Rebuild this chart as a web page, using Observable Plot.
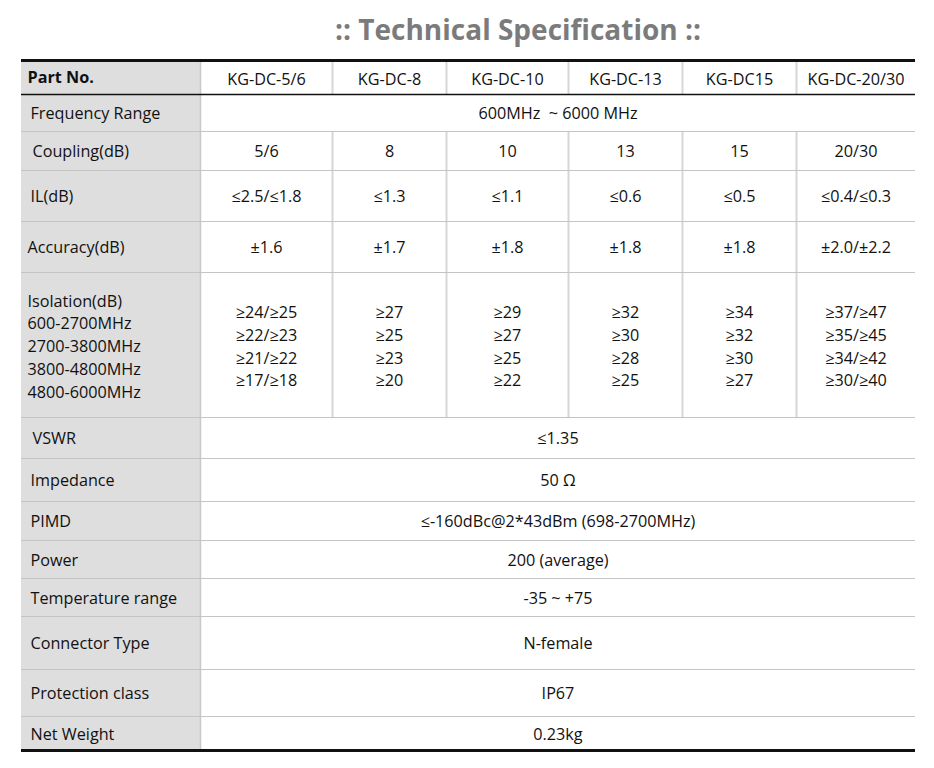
<!DOCTYPE html>
<html>
<head>
<meta charset="utf-8">
<script src="https://cdn.jsdelivr.net/npm/d3@7"></script>
<script src="https://cdn.jsdelivr.net/npm/@observablehq/plot@0.6"></script>
<style>
  html, body { margin: 0; padding: 0; background: #fff; }
  #title { height: 58px; width: 934px; position: relative; font-family: "Open Sans", sans-serif; }
  #title span { position: absolute; left: 518px; top: 10px; transform: translateX(-50%); white-space: nowrap;
    font-size: 28px; line-height: 38px; font-weight: 700; color: #7b7b7b; letter-spacing: 0px; }
  #chart svg { display: block; }
</style>
</head>
<body>
<div id="title"><span>:: Technical Specification ::</span></div>
<div id="chart"></div>
<script>
// ---- content ----
const headerLabel = "Part No.";
const partNumbers = ["KG-DC-5/6", "KG-DC-8", "KG-DC-10", "KG-DC-13", "KG-DC15", "KG-DC-20/30"];
const rowLabels = [
  "Frequency Range",
  "Coupling(dB)",
  "IL(dB)",
  "Accuracy(dB)",
  "Isolation(dB)\n600-2700MHz\n2700-3800MHz\n3800-4800MHz\n4800-6000MHz",
  "VSWR",
  "Impedance",
  "PIMD",
  "Power",
  "Temperature range",
  "Connector Type",
  "Protection class",
  "Net Weight"
];
const frequencyRange = "600MHz  ~ 6000 MHz";
const coupling = ["5/6", "8", "10", "13", "15", "20/30"];
const insertionLoss = ["≤2.5/≤1.8", "≤1.3", "≤1.1", "≤0.6", "≤0.5", "≤0.4/≤0.3"];
const accuracy = ["±1.6", "±1.7", "±1.8", "±1.8", "±1.8", "±2.0/±2.2"];
const isolation = [
  "≥24/≥25\n≥22/≥23\n≥21/≥22\n≥17/≥18",
  "≥27\n≥25\n≥23\n≥20",
  "≥29\n≥27\n≥25\n≥22",
  "≥32\n≥30\n≥28\n≥25",
  "≥34\n≥32\n≥30\n≥27",
  "≥37/≥47\n≥35/≥45\n≥34/≥42\n≥30/≥40"
];
const vswr = "≤1.35";
const impedance = "50 Ω";
const pimd = "≤-160dBc@2*43dBm (698-2700MHz)";
const power = "200 (average)";
const temperature = "-35 ~ +75";
const connector = "N-female";
const protection = "IP67";
const netWeight = "0.23kg";

const rowValues = [frequencyRange, coupling, insertionLoss, accuracy, isolation,
  vswr, impedance, pimd, power, temperature, connector, protection, netWeight];

// ---- layout (table units) ----
const colEdges = [21, 200, 332, 446, 568, 682, 796, 915];
const rowEdges = [0, 34, 71, 110, 161, 212, 357, 398, 441, 480, 518, 556, 609, 656, 690];
const labelIndent = 9;
const fs = 16.2;

// ---- build table cells ----
const cells = [];
const hc = (rowEdges[0] + rowEdges[1]) / 2;
cells.push({text: headerLabel, x: colEdges[0] + 6, y: hc, anchor: "start", bold: true});
partNumbers.forEach((p, j) => cells.push({text: p, x: (colEdges[j + 1] + colEdges[j + 2]) / 2, y: hc, anchor: "middle"}));
rowLabels.forEach((lab, i) => {
  const yc = (rowEdges[i + 1] + rowEdges[i + 2]) / 2;
  const indent = (i === 3 || i === 4) ? 6 : labelIndent + (i === 1 || i === 5 ? 2 : 0);
  const dy = i === 4 ? 0 : -1.2;
  cells.push({text: lab, x: colEdges[0] + indent, y: yc + dy, anchor: "start"});
  const v = rowValues[i];
  if (Array.isArray(v)) {
    v.forEach((t, j) => cells.push({text: t, x: (colEdges[j + 1] + colEdges[j + 2]) / 2, y: yc + dy, anchor: "middle"}));
  } else {
    cells.push({text: v, x: (colEdges[1] + colEdges[colEdges.length - 1]) / 2, y: yc + dy, anchor: "middle"});
  }
});

const labelBands = rowEdges.slice(0, -1).map((e, i) => ({y1: e, y2: rowEdges[i + 1]}));
const innerRows = rowEdges.slice(2, -1);
const splitCols = colEdges.slice(2, -1);
// vertical separators only where the row has one value per part number (header + per-part rows)
const splitSpans = [{y1: rowEdges[0], y2: rowEdges[1]}];
rowValues.forEach((v, i) => { if (Array.isArray(v)) splitSpans.push({y1: rowEdges[i + 1], y2: rowEdges[i + 2]}); });
const splitSegs = splitCols.flatMap(x => splitSpans.map(s => ({x, ...s})));

const W = 934, H = 710, off = 2;

const chart = Plot.plot({
  width: W,
  height: H,
  margin: 0,
  x: {domain: [0, W], range: [0, W], axis: null},
  y: {domain: [-off, H - off], range: [0, H], axis: null},
  style: {fontFamily: "'Open Sans', sans-serif", background: "#fff"},
  marks: [
    Plot.rect(labelBands, {x1: colEdges[0], x2: colEdges[1], y1: "y1", y2: "y2", fill: "#dedede"}),
    Plot.ruleX(splitSegs, {x: "x", y1: "y1", y2: "y2", stroke: "#d6d6d6", strokeWidth: 2}),
    Plot.ruleY(innerRows, {x1: colEdges[0], x2: colEdges[colEdges.length - 1], stroke: "#c4c4c4", strokeWidth: 1.2}),
    Plot.ruleX([colEdges[1]], {y1: rowEdges[0], y2: rowEdges[rowEdges.length - 1], stroke: "#c8c8c8", strokeWidth: 1.5}),
    Plot.ruleY([rowEdges[1]], {x1: colEdges[0], x2: colEdges[colEdges.length - 1], stroke: "#111", strokeWidth: 1.6}),
    Plot.ruleY([rowEdges[0], rowEdges[rowEdges.length - 1]], {x1: colEdges[0], x2: colEdges[colEdges.length - 1], stroke: "#111", strokeWidth: 3}),
    Plot.text(cells.filter(d => d.anchor === "start" && !d.bold), {x: "x", y: "y", text: "text", textAnchor: "start", fontSize: fs, fill: "#111", lineHeight: 1.41}),
    Plot.text(cells.filter(d => d.bold), {x: "x", y: "y", text: "text", textAnchor: "start", fontSize: fs, fontWeight: "bold", fill: "#111"}),
    Plot.text(cells.filter(d => d.anchor === "middle"), {x: "x", y: "y", text: "text", textAnchor: "middle", fontSize: fs, fill: "#111", lineHeight: 1.4})
  ]
});
document.getElementById("chart").appendChild(chart);
</script>
</body>
</html>
